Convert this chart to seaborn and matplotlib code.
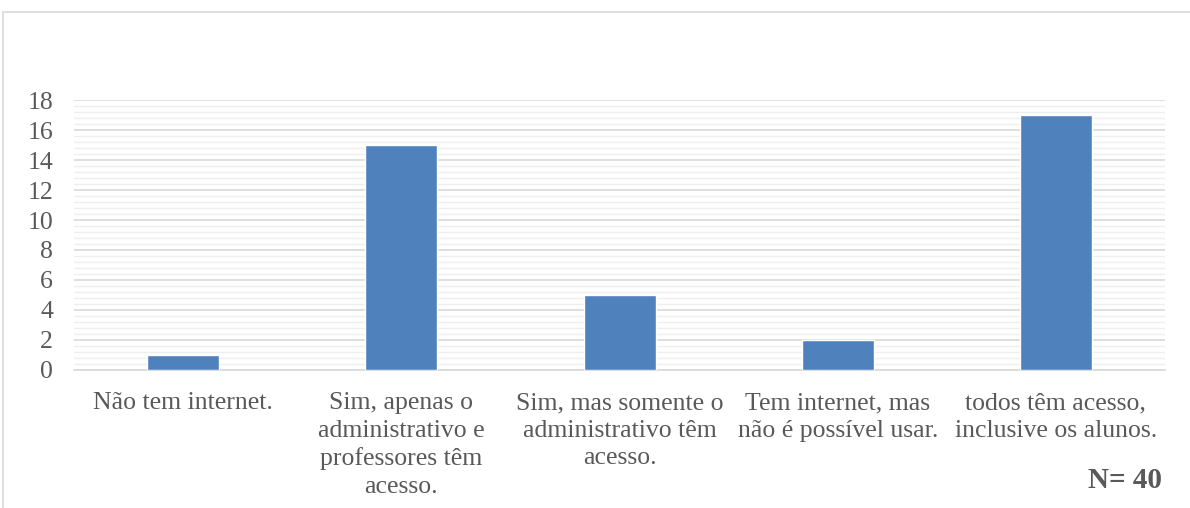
import matplotlib
matplotlib.use("Agg")
import matplotlib.pyplot as plt
from matplotlib.patches import Rectangle
from matplotlib.ticker import MultipleLocator
import seaborn as sns
import pandas as pd

categories = [
    "Não tem internet.",
    "Sim, apenas o\nadministrativo e\nprofessores têm\nacesso.",
    "Sim, mas somente o\nadministrativo têm\nacesso.",
    "Tem internet, mas\nnão é possível usar.",
    "todos têm acesso,\ninclusive os alunos.",
]
counts = [1, 15, 5, 2, 17]
y_ticks = [0, 2, 4, 6, 8, 10, 12, 14, 16, 18]
sample_note = "N= 40"

sns.set_theme(style="white")
plt.rcParams["font.family"] = ["Liberation Serif", "DejaVu Serif"]

text_color = "#595959"
bar_color = "#4f81bd"

fig = plt.figure(figsize=(11.9, 5.08), dpi=100)
ax = fig.add_axes([0.0622, 0.2717, 0.9168, 0.5314])

df = pd.DataFrame({"categoria": categories, "n": counts})
sns.barplot(data=df, x="categoria", y="n", color=bar_color, saturation=1,
            width=0.33, ax=ax, zorder=3)

ax.set_ylim(0, 18)
ax.set_yticks(y_ticks)
ax.yaxis.set_minor_locator(MultipleLocator(0.4))
ax.grid(axis="y", which="major", color="#d9d9d9", linewidth=1.2, zorder=0)
ax.grid(axis="y", which="minor", color="#efefef", linewidth=1.0, zorder=0)
ax.set_axisbelow(True)
ax.set_xlabel("")
ax.set_ylabel("")
for side in ["top", "right", "left"]:
    ax.spines[side].set_visible(False)
ax.spines["bottom"].set_color("#d9d9d9")
ax.spines["bottom"].set_linewidth(1.2)
ax.tick_params(axis="y", labelsize=18.5, colors=text_color, length=0, pad=15)
ax.tick_params(axis="x", labelsize=18.5, colors=text_color, length=0, pad=16)
for lbl in ax.get_xticklabels():
    lbl.set_linespacing(1.32)
    lbl.set_horizontalalignment("center")

# outer chart frame
fig.patches.append(Rectangle((3 / 1190, -0.05), 1.2, 1 - 12 / 508 + 0.05,
                             transform=fig.transFigure, fill=False,
                             edgecolor="#d9d9d9", linewidth=1.2))

fig.text(1162 / 1190, 1 - 481 / 508, sample_note, ha="right", va="center",
         fontsize=21, fontweight="bold", color=text_color)

fig.savefig("out.png", dpi=100)
